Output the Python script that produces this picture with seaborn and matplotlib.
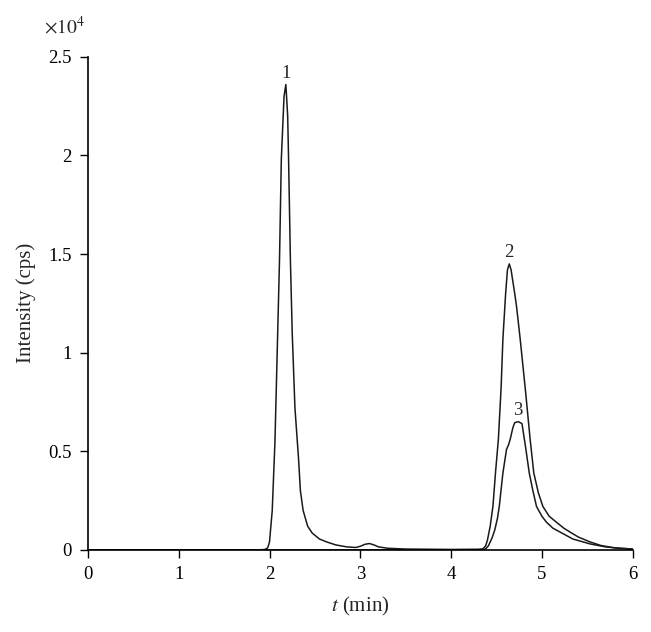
import numpy as np
import pandas as pd
import matplotlib
matplotlib.use("Agg")
import matplotlib.pyplot as plt
import seaborn as sns

# Trace A: peaks 1 and 2 (intensity in units of 10^4 cps)
t_a = [0.0, 1.0, 1.9, 1.95, 1.98, 2.00, 2.03, 2.06, 2.09, 2.11, 2.13, 2.16, 2.18, 2.20,
       2.21, 2.23, 2.25, 2.28, 2.32, 2.34, 2.37, 2.42, 2.47, 2.55, 2.63, 2.73, 2.85,
       2.95, 3.00, 3.05, 3.10, 3.15, 3.20, 3.30, 3.50, 4.00, 4.30, 4.35, 4.38, 4.40,
       4.43, 4.46, 4.49, 4.52, 4.55, 4.57, 4.60, 4.62, 4.64, 4.66, 4.68, 4.70, 4.72,
       4.76, 4.82, 4.87, 4.91, 4.96, 5.01, 5.08, 5.16, 5.24, 5.31, 5.40, 5.53, 5.65,
       5.80, 6.00]
i_a = [0.0, 0.0, 0.0, 0.002, 0.01, 0.04, 0.20, 0.55, 1.10, 1.47, 1.98, 2.30, 2.36, 2.20,
       1.98, 1.47, 1.10, 0.72, 0.46, 0.30, 0.20, 0.12, 0.085, 0.055, 0.04, 0.025, 0.015,
       0.012, 0.018, 0.028, 0.032, 0.025, 0.015, 0.008, 0.004, 0.002, 0.003, 0.005, 0.02,
       0.05, 0.12, 0.22, 0.40, 0.56, 0.82, 1.07, 1.30, 1.42, 1.45, 1.42, 1.36, 1.30,
       1.235, 1.07, 0.80, 0.56, 0.39, 0.29, 0.22, 0.17, 0.14, 0.11, 0.09, 0.065, 0.04,
       0.022, 0.01, 0.004]

# Trace B: peak 3
t_b = [0.0, 2.0, 3.0, 4.0, 4.35, 4.38, 4.41, 4.45, 4.48, 4.51, 4.53, 4.57, 4.61, 4.63,
       4.65, 4.68, 4.70, 4.74, 4.78, 4.80, 4.82, 4.86, 4.90, 4.94, 5.00, 5.05, 5.12,
       5.20, 5.34, 5.53, 5.70, 5.85, 6.00]
i_b = [0.0, 0.0, 0.0, 0.0, 0.0, 0.005, 0.02, 0.06, 0.10, 0.16, 0.22, 0.39, 0.51, 0.53,
       0.56, 0.62, 0.645, 0.65, 0.64, 0.58, 0.52, 0.39, 0.30, 0.22, 0.17, 0.14, 0.11,
       0.09, 0.055, 0.03, 0.015, 0.008, 0.004]

peak_labels = ["1", "2", "3"]
peak_t = [2.18, 4.64, 4.73]
peak_i = [2.36, 1.45, 0.65]

x_ticks = [0, 1, 2, 3, 4, 5, 6]
y_ticks = [0, 0.5, 1, 1.5, 2, 2.5]
y_tick_labels = ["0", "0.5", "1", "1.5", "2", "2.5"]

df = pd.concat([
    pd.DataFrame({"t": t_a, "I": i_a, "trace": "A"}),
    pd.DataFrame({"t": t_b, "I": i_b, "trace": "B"}),
])

sns.set_style("ticks")
plt.rcParams["font.family"] = ["Liberation Serif", "DejaVu Serif"]
plt.rcParams["mathtext.fontset"] = "stix"

fig = plt.figure(figsize=(6.51, 6.32), dpi=100)
ax = fig.add_axes([0.135, 0.130, 0.837, 0.780])

sns.lineplot(data=df, x="t", y="I", hue="trace", palette=["#1a1a1a", "#1a1a1a"],
             linewidth=1.1, legend=False, ax=ax, estimator=None, sort=False)

for lab, tx, iy in zip(peak_labels, peak_t, peak_i):
    ax.annotate(lab, (tx, iy), xytext=(0, 2), textcoords="offset points",
                ha="center", va="bottom", fontsize=13.5)

ax.set_xlim(0, 6)
ax.set_ylim(0, 2.5)
ax.set_xticks(x_ticks)
ax.set_yticks(y_ticks)
ax.set_yticklabels(y_tick_labels)
ax.tick_params(labelsize=13.5, length=5.5, width=1, colors="black", direction="out", pad=6)
for s in ["top", "right"]:
    ax.spines[s].set_visible(False)
for s in ["left", "bottom"]:
    ax.spines[s].set_linewidth(1.2)
    ax.spines[s].set_color("black")

ax.set_xlabel(r"$\mathit{t}$ (min)", fontsize=15, labelpad=9)
ax.set_ylabel("Intensity (cps)", fontsize=15, labelpad=9)
fig.text(0.068, 0.941, r"$\times10^{4}$", fontsize=14, ha="left", va="bottom")

fig.savefig("out.png", dpi=100, facecolor="white")
